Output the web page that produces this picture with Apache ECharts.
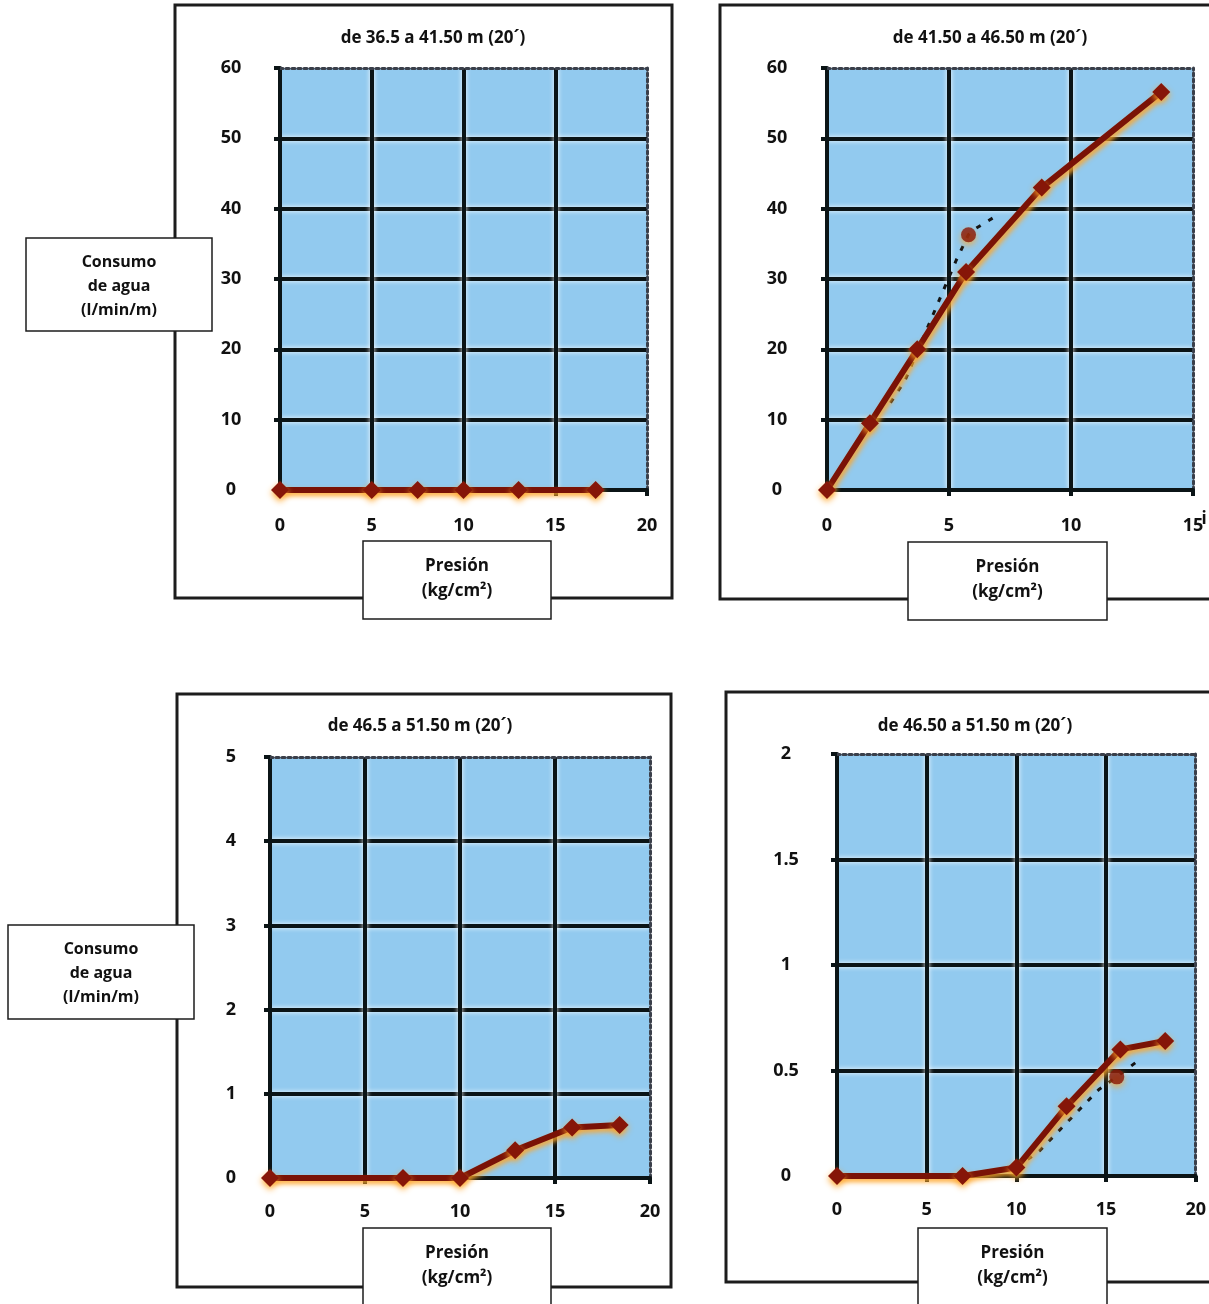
<!DOCTYPE html>
<html>
<head>
<meta charset="utf-8">
<script src="https://cdn.jsdelivr.net/npm/echarts@6/dist/echarts.min.js"></script>
<style>
html,body{margin:0;padding:0;background:#fff;}
#c{width:1209px;height:1304px;}
</style>
</head>
<body>
<div id="c"></div>
<script>
// ---- Data ----
const titles = ['de 36.5 a 41.50 m (20´)', 'de 41.50 a 46.50 m (20´)', 'de 46.5 a 51.50 m (20´)', 'de 46.50 a 51.50 m (20´)'];
const yLabelText = ['Consumo', 'de agua', '(l/min/m)'];
const xLabelText = ['Presión', '(kg/cm²)'];

// axis ranges (tick labels)
const xMax = [20, 15, 20, 20];
const xStep = [5, 5, 5, 5];
const yMax = [60, 60, 5, 2];
const yStep = [10, 10, 1, 0.5];

// Panel 1
const pressure1 = [0, 5, 7.5, 10, 13, 17.2];
const flow1 = [0, 0, 0, 0, 0, 0];
// Panel 2
const pressure2 = [0, 1.76, 3.7, 5.7, 8.8, 13.7];
const flow2 = [0, 9.5, 20, 31, 43, 56.6];
const pressure2b = [2.6, 3.2, 5.3, 5.8, 6.1, 6.9];
const flow2b = [12.4, 15.6, 32.7, 36.3, 37.2, 38.9];
const outlier2 = [[5.8, 36.3]];
// Panel 3
const pressure3 = [0, 7, 10, 12.9, 15.9, 18.4];
const flow3 = [0, 0, 0, 0.33, 0.6, 0.63];
// Panel 4
const pressure4 = [0, 7, 10, 12.8, 15.8, 18.3];
const flow4 = [0, 0, 0.04, 0.33, 0.6, 0.64];
const pressure4b = [10, 11.3, 14.6, 15.6, 17];
const flow4b = [0.04, 0.12, 0.41, 0.47, 0.56];
const outlier4 = [[15.6, 0.47]];

// ---- Layout ----
const FONT = '"Open Sans", "Liberation Sans", sans-serif';
const grids = [
  {left: 280, top: 68, width: 367, height: 422},
  {left: 827, top: 68, width: 366, height: 422},
  {left: 270, top: 757, width: 380, height: 421},
  {left: 837, top: 754, width: 360, height: 422}
];
const yMargins = [49, 50, 39, 51];
const xMargins = [27, 27, 25, 25];

const pair = (xs, ys) => xs.map((x, i) => [x, ys[i]]);

const gridLine = {color: '#0b1416', width: 4, shadowColor: 'rgba(255,255,255,0.95)', shadowBlur: 5};
const labelStyle = {fontFamily: FONT, fontWeight: 'bold', fontSize: 18, color: '#111'};

const xAxes = [], yAxes = [], series = [];
grids.forEach((g, i) => {
  xAxes.push({
    type: 'value', gridIndex: i, position: 'bottom', min: 0, max: xMax[i], interval: xStep[i],
    axisLine: {show: true, onZero: false, lineStyle: {color: '#0b1416', width: 4}},
    axisTick: {show: true, length: 6, lineStyle: {color: '#0b1416', width: 4}},
    axisLabel: Object.assign({margin: xMargins[i]}, labelStyle),
    splitLine: {show: true, showMinLine: false, showMaxLine: false, lineStyle: gridLine}
  });
  xAxes.push({
    type: 'value', gridIndex: i, position: 'top', min: 0, max: xMax[i], interval: xStep[i],
    axisLine: {show: true, onZero: false, lineStyle: {color: '#3a3f4a', width: 3, type: 'dotted'}},
    axisTick: {show: false}, axisLabel: {show: false}, splitLine: {show: false}
  });
  yAxes.push({
    type: 'value', gridIndex: i, position: 'left', min: 0, max: yMax[i], interval: yStep[i],
    axisLine: {show: true, onZero: false, lineStyle: {color: '#0b1416', width: 4}},
    axisTick: {show: true, length: 6, lineStyle: {color: '#0b1416', width: 4}},
    axisLabel: Object.assign({margin: yMargins[i], align: 'center'}, labelStyle),
    splitLine: {show: true, showMinLine: false, showMaxLine: false, lineStyle: gridLine}
  });
  yAxes.push({
    type: 'value', gridIndex: i, position: 'right', min: 0, max: yMax[i], interval: yStep[i],
    axisLine: {show: true, onZero: false, lineStyle: {color: '#3a3f4a', width: 3, type: 'dotted'}},
    axisTick: {show: false}, axisLabel: {show: false}, splitLine: {show: false}
  });
});

const mainLine = (idx, data) => ({
  type: 'line', xAxisIndex: idx * 2, yAxisIndex: idx * 2, data: data, z: 5,
  clip: false, symbol: 'diamond', symbolSize: 18, showAllSymbol: true,
  lineStyle: {color: '#7a1206', width: 6, shadowColor: 'rgba(255,165,40,0.95)', shadowBlur: 5, shadowOffsetX: 2, shadowOffsetY: 3},
  itemStyle: {color: '#861608', shadowColor: 'rgba(255,165,40,0.95)', shadowBlur: 6, shadowOffsetY: 3},
  animation: false
});
const dashLine = (idx, data) => ({
  type: 'line', xAxisIndex: idx * 2, yAxisIndex: idx * 2, data: data, z: 4,
  symbol: 'none', clip: false,
  lineStyle: {color: '#141414', width: 3, type: [5, 9]},
  animation: false
});
const outlier = (idx, data) => ({
  type: 'scatter', xAxisIndex: idx * 2, yAxisIndex: idx * 2, data: data, z: 6,
  symbol: 'circle', symbolSize: 15,
  itemStyle: {color: '#861608', shadowColor: 'rgba(255,165,40,0.95)', shadowBlur: 6, shadowOffsetY: 3},
  animation: false
});

series.push(mainLine(0, pair(pressure1, flow1)));
series.push(dashLine(1, pair(pressure2b, flow2b)));
series.push(mainLine(1, pair(pressure2, flow2)));
series.push(outlier(1, outlier2));
series.push(mainLine(2, pair(pressure3, flow3)));
series.push(dashLine(3, pair(pressure4b, flow4b)));
series.push(mainLine(3, pair(pressure4, flow4)));
series.push(outlier(3, outlier4));

// ---- Decorations: frames, titles, label boxes ----
const frames = [
  {x: 175, y: 5, width: 497, height: 593},
  {x: 720, y: 5, width: 530, height: 594},
  {x: 177, y: 694, width: 494, height: 593},
  {x: 726, y: 692, width: 530, height: 590}
];
const titlePos = [[433, 38], [990, 38], [420, 726], [975, 726]];
const presionBoxes = [
  {x: 363, y: 541, w: 188, h: 78},
  {x: 908, y: 542, w: 199, h: 78},
  {x: 363, y: 1228, w: 188, h: 80},
  {x: 918, y: 1228, w: 189, h: 80}
];
const consumoBoxes = [
  {x: 26, y: 238, w: 186, h: 93},
  {x: 8, y: 925, w: 186, h: 94}
];

const graphics = [];
frames.forEach(f => graphics.push({
  type: 'rect', shape: f, z: 1,
  style: {fill: 'none', stroke: '#1c1c1c', lineWidth: 3}
}));
titles.forEach((t, i) => graphics.push({
  type: 'text', z: 10,
  style: {text: t, x: titlePos[i][0], y: titlePos[i][1], textAlign: 'center', textVerticalAlign: 'middle',
          font: 'bold 17px ' + FONT, fill: '#111'}
}));
presionBoxes.forEach(b => {
  graphics.push({type: 'rect', z: 20, shape: {x: b.x, y: b.y, width: b.w, height: b.h},
    style: {fill: '#fff', stroke: '#1c1c1c', lineWidth: 1.5}});
  xLabelText.forEach((t, k) => graphics.push({
    type: 'text', z: 21,
    style: {text: t, x: b.x + b.w / 2, y: b.y + 25 + k * 25, textAlign: 'center', textVerticalAlign: 'middle',
            font: 'bold 17px ' + FONT, fill: '#111'}
  }));
});
consumoBoxes.forEach(b => {
  graphics.push({type: 'rect', z: 20, shape: {x: b.x, y: b.y, width: b.w, height: b.h},
    style: {fill: '#fff', stroke: '#1c1c1c', lineWidth: 1.5}});
  yLabelText.forEach((t, k) => graphics.push({
    type: 'text', z: 21,
    style: {text: t, x: b.x + b.w / 2, y: b.y + 24 + k * 24, textAlign: 'center', textVerticalAlign: 'middle',
            font: 'bold 16px ' + FONT, fill: '#111'}
  }));
});
graphics.push({type: 'text', z: 10,
  style: {text: 'i', x: 1204, y: 519, textAlign: 'center', textVerticalAlign: 'middle', font: 'bold 17px ' + FONT, fill: '#111'}});

const chart = echarts.init(document.getElementById('c'), null, {renderer: 'canvas'});
chart.setOption({
  backgroundColor: '#ffffff',
  animation: false,
  grid: grids.map(g => Object.assign({show: true, backgroundColor: '#92caef', borderWidth: 0}, g)),
  xAxis: xAxes,
  yAxis: yAxes,
  series: series,
  graphic: graphics
});
</script>
</body>
</html>
